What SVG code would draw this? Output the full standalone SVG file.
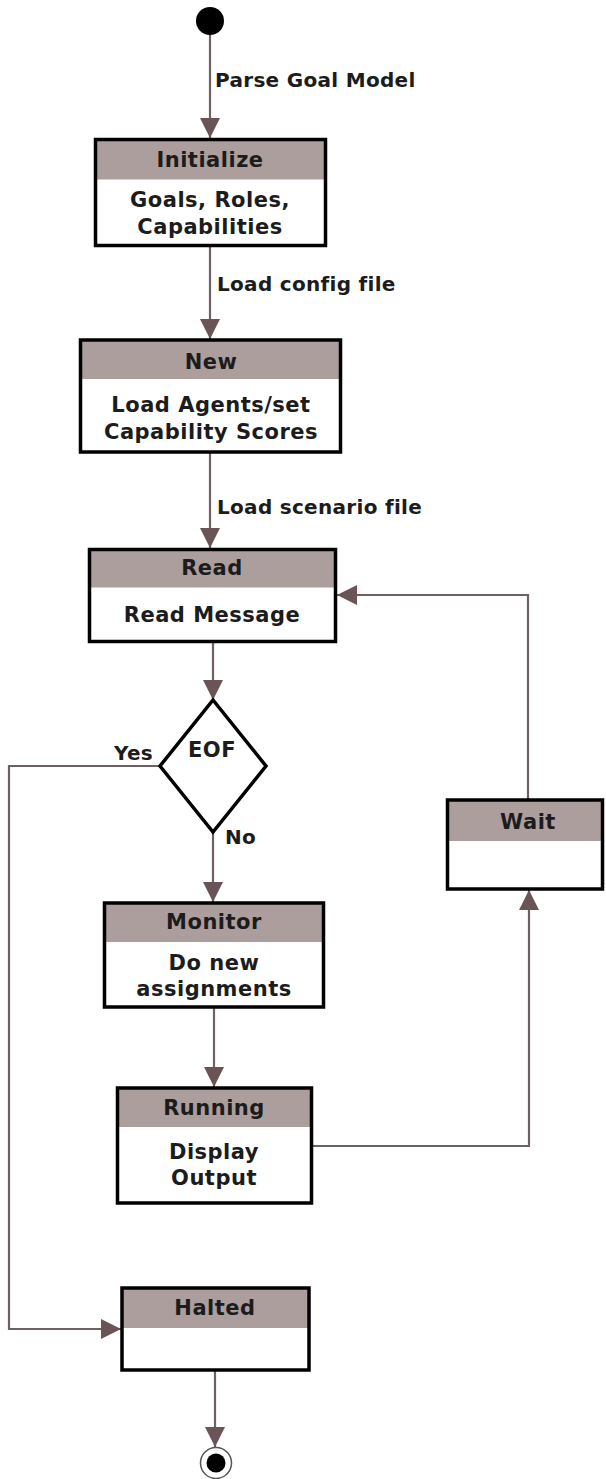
<svg xmlns="http://www.w3.org/2000/svg" width="606" height="1479" viewBox="0 0 606 1479">
<style>
.hdr{fill:#ad9e9e}
.box{fill:none;stroke:#000;stroke-width:3.5}
.body{fill:#fff}
.t{font-family:"DejaVu Sans",Verdana,sans-serif;font-weight:bold;font-size:21px;letter-spacing:0.5px;fill:#1c1c1c;text-anchor:middle}
.l{font-family:"DejaVu Sans",Verdana,sans-serif;font-weight:bold;font-size:20px;letter-spacing:0.3px;fill:#1c1c1c}
.c{fill:none;stroke:#6f6062;stroke-width:2.2}
</style>
<defs>
<marker id="arr" markerUnits="userSpaceOnUse" markerWidth="20" markerHeight="20" refX="20" refY="10" orient="auto" viewBox="0 0 20 20">
<path d="M0,0 L20,10 L0,20 z" fill="#6b5456"/>
</marker>
</defs>
<rect width="606" height="1479" fill="#fff"/>
<g id="connectors">
<path class="c" d="M210,35 V138" marker-end="url(#arr)"/>
<path class="c" d="M210,246 V339" marker-end="url(#arr)"/>
<path class="c" d="M210,453 V548" marker-end="url(#arr)"/>
<path class="c" d="M213,642 V700" marker-end="url(#arr)"/>
<path class="c" d="M160,766 H9 V1329 H121" marker-end="url(#arr)"/>
<path class="c" d="M213,832 V902" marker-end="url(#arr)"/>
<path class="c" d="M214,1008 V1087" marker-end="url(#arr)"/>
<path class="c" d="M313,1146 H529 V890" marker-end="url(#arr)"/>
<path class="c" d="M528,799 V595 H337" marker-end="url(#arr)"/>
<path class="c" d="M215,1371 V1447" marker-end="url(#arr)"/>
<text class="l" x="215" y="87">Parse Goal Model</text>
<text class="l" x="217" y="291">Load config file</text>
<text class="l" x="217" y="514">Load scenario file</text>
<text class="l" x="153" y="760" text-anchor="end">Yes</text>
<text class="l" x="225" y="844">No</text>
</g>
<g id="start"><circle cx="210" cy="21" r="14" fill="#000"/></g>
<g id="initialize">
<rect class="body" x="95.5" y="139.5" width="230" height="106"/>
<rect class="hdr" x="95.5" y="139.5" width="230" height="40"/>
<rect class="box" x="95.5" y="139.5" width="230" height="106"/>
<text class="t" x="210" y="167">Initialize</text>
<text class="t" x="210" y="207">Goals, Roles,</text>
<text class="t" x="210" y="234">Capabilities</text>
</g>
<g id="new">
<rect class="body" x="80.5" y="340" width="260" height="112"/>
<rect class="hdr" x="80.5" y="340" width="260" height="39"/>
<rect class="box" x="80.5" y="340" width="260" height="112"/>
<text class="t" x="211" y="369">New</text>
<text class="t" x="211" y="412">Load Agents/set</text>
<text class="t" x="211" y="439">Capability Scores</text>
</g>
<g id="read">
<rect class="body" x="89.5" y="549.5" width="246" height="92"/>
<rect class="hdr" x="89.5" y="549.5" width="246" height="38"/>
<rect class="box" x="89.5" y="549.5" width="246" height="92"/>
<text class="t" x="212" y="575">Read</text>
<text class="t" x="212" y="622">Read Message</text>
</g>
<g id="eof">
<polygon points="213,700 266,766 213,832 160,766" fill="#fff" stroke="#000" stroke-width="3.5" stroke-linejoin="miter"/>
<text class="t" x="212" y="757">EOF</text>
</g>
<g id="monitor">
<rect class="body" x="104.5" y="903" width="219" height="104"/>
<rect class="hdr" x="104.5" y="903" width="219" height="39"/>
<rect class="box" x="104.5" y="903" width="219" height="104"/>
<text class="t" x="214" y="929">Monitor</text>
<text class="t" x="214" y="970">Do new</text>
<text class="t" x="214" y="996">assignments</text>
</g>
<g id="running">
<rect class="body" x="117.5" y="1088" width="194" height="115"/>
<rect class="hdr" x="117.5" y="1088" width="194" height="39"/>
<rect class="box" x="117.5" y="1088" width="194" height="115"/>
<text class="t" x="214" y="1115">Running</text>
<text class="t" x="214" y="1159">Display</text>
<text class="t" x="214" y="1185">Output</text>
</g>
<g id="wait">
<rect class="body" x="447.5" y="800" width="155" height="89"/>
<rect class="hdr" x="447.5" y="800" width="155" height="41"/>
<rect class="box" x="447.5" y="800" width="155" height="89"/>
<text class="t" x="528" y="829">Wait</text>
</g>
<g id="halted">
<rect class="body" x="122" y="1288" width="187" height="82"/>
<rect class="hdr" x="122" y="1288" width="187" height="40"/>
<rect class="box" x="122" y="1288" width="187" height="82"/>
<text class="t" x="215" y="1315">Halted</text>
</g>
<g id="end">
<circle cx="216" cy="1463" r="15.5" fill="#fff" stroke="#555" stroke-width="1.5"/>
<circle cx="216" cy="1463" r="9.5" fill="#000"/>
</g>
</svg>
